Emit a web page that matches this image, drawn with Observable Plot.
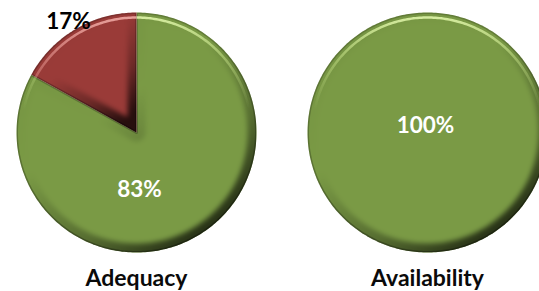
<!DOCTYPE html>
<html><head><meta charset="utf-8">
<script src="https://cdn.jsdelivr.net/npm/d3@7"></script>
<script src="https://cdn.jsdelivr.net/npm/@observablehq/plot@0.6"></script>
<style>html,body{margin:0;padding:0;background:#fff;overflow:hidden} svg{display:block}</style>
</head><body><div id="chart"></div>
<script>
// ---- data ----
const pieNames = ["Adequacy", "Availability"];
const adequacyCategories = ["Adequate", "Inadequate"];
const adequacyValues = [83, 17];
const availabilityCategories = ["Available"];
const availabilityValues = [100];

// ---- styles & layout ----
const W = 539, H = 291;
const sliceColors = {Adequate: "#7a9a45", Inadequate: "#9a3b38", Available: "#7a9a45"};
const ridgeFills = {Adequate: "url(#ridgeGreen)", Inadequate: "url(#ridgeRed)", Available: "url(#ridgeGreen)"};
const labelColors = {Adequate: "#ffffff", Inadequate: "#000000", Available: "#ffffff"};
const layout = {
  centers: [136, 427], cy: 132, r: 120, titleY: 278, ridgeInset: 5,
  labelOffsets: {Adequate: [3, 57.5], Inadequate: [-68, -110.5], Available: [-2, -6.5]}
};

function makeSlices(pieIndex, cats, vals) {
  const total = d3.sum(vals); let acc = 0;
  return cats.map((c, i) => {
    const a0 = acc / total * 2 * Math.PI; acc += vals[i];
    const a1 = acc / total * 2 * Math.PI;
    return {id: pieIndex + "-" + c, pie: pieIndex, cat: c, value: vals[i], pct: vals[i] / total, a0, a1};
  });
}
const slices = [
  ...makeSlices(0, adequacyCategories, adequacyValues),
  ...makeSlices(1, availabilityCategories, availabilityValues)
];

function pt(s, R, a) {
  const cx = layout.centers[s.pie];
  return {x: cx + R * Math.sin(a), y: layout.cy - R * Math.cos(a)};
}
function arcPts(s, R) {
  const n = Math.max(2, Math.ceil((s.a1 - s.a0) / (Math.PI / 180)));
  return d3.range(n + 1).map(k => pt(s, R, s.a0 + (s.a1 - s.a0) * k / n));
}
// slice outlines
const shapePts = slices.flatMap(s => {
  const full = s.a1 - s.a0 >= 2 * Math.PI - 1e-9;
  const arc = arcPts(s, layout.r);
  const c = {x: layout.centers[s.pie], y: layout.cy};
  const pts = full ? arc : [c, ...arc, c];
  return pts.map(p => ({...p, id: s.id, cat: s.cat}));
});
// bevel ridge arcs
const ridgePts = slices.flatMap(s => arcPts(s, layout.r - layout.ridgeInset).map(p => ({...p, id: s.id, cat: s.cat})));

const labels = slices.map(s => ({
  x: layout.centers[s.pie] + layout.labelOffsets[s.cat][0],
  y: layout.cy + layout.labelOffsets[s.cat][1],
  text: Math.round(s.pct * 100) + "%", cat: s.cat
}));
const titles = pieNames.map((n, i) => ({name: n, x: layout.centers[i], y: layout.titleY}));

const plot = Plot.plot({
  width: W, height: H, margin: 0,
  style: {background: "#fff", overflow: "hidden"},
  x: {domain: [0, W], range: [0, W], axis: null},
  y: {domain: [0, H], range: [0, H], axis: null},
  color: {type: "identity"},
  marks: [
    Plot.line(shapePts, {x: "x", y: "y", z: "id", fill: d => sliceColors[d.cat], stroke: "none", curve: "linear"}),
    Plot.line(shapePts, {x: "x", y: "y", z: "id", fill: "none", stroke: "url(#shade)", strokeWidth: 18, curve: "linear"}),
    Plot.line(shapePts, {x: "x", y: "y", z: "id", fill: "none", stroke: "url(#edge)", strokeWidth: 3, curve: "linear"}),
    Plot.line(ridgePts, {x: "x", y: "y", z: "id", fill: "none", stroke: d => ridgeFills[d.cat], strokeWidth: 2.5, curve: "linear"}),
    Plot.text(labels, {x: "x", y: "y", text: "text", fill: d => labelColors[d.cat], fontSize: 22.5, fontWeight: "bold", fontFamily: "Lato"}),
    Plot.text(titles, {x: "x", y: "y", text: "name", fill: "#0a0a0a", fontSize: 23, fontWeight: "bold", fontFamily: "Lato"})
  ]
});

// ---- bevel effects ----
const svg = d3.select(plot);
const defs = svg.insert("defs", ":first-child");
function grad(id, attrs, stops) {
  const g = defs.append("linearGradient").attr("id", id);
  Object.entries(attrs).forEach(([k, v]) => g.attr(k, v));
  stops.forEach(([o, c, op]) => g.append("stop").attr("offset", o).attr("stop-color", c).attr("stop-opacity", op));
}
grad("shade", {x1: 0, y1: 0, x2: 0.75, y2: 1}, [[0, "#000", 0.05], [0.45, "#000", 0.0], [0.75, "#000", 0.3], [1, "#000", 0.75]]);
grad("edge", {x1: 0, y1: 0, x2: 0, y2: 1}, [[0, "#000", 0.18], [1, "#000", 0.3]]);
grad("ridgeGreen", {gradientUnits: "userSpaceOnUse", x1: 0, y1: layout.cy - layout.r, x2: 0, y2: layout.cy + 10},
  [[0, "#e2f7ad", 0.95], [0.35, "#c8e48a", 0.5], [0.75, "#c8e48a", 0]]);
grad("ridgeRed", {gradientUnits: "userSpaceOnUse", x1: 0, y1: layout.cy - layout.r, x2: 0, y2: layout.cy - 40},
  [[0, "#f0aaa5", 0.95], [0.6, "#e3928d", 0.6], [1, "#e3928d", 0.3]]);
const blur = defs.append("filter").attr("id", "blur").attr("filterUnits", "userSpaceOnUse")
  .attr("x", 0).attr("y", 0).attr("width", W).attr("height", H);
blur.append("feGaussianBlur").attr("stdDeviation", 2.5);
const blurS = defs.append("filter").attr("id", "blurS").attr("filterUnits", "userSpaceOnUse")
  .attr("x", 0).attr("y", 0).attr("width", W).attr("height", H);
blurS.append("feGaussianBlur").attr("stdDeviation", 0.7);

const groups = svg.selectAll('g[aria-label="line"]').nodes();
const basePaths = d3.select(groups[0]).selectAll("path").nodes();
basePaths.forEach((p, i) => {
  defs.append("clipPath").attr("id", "clip" + i).append("path").attr("d", p.getAttribute("d"));
});
[1, 2, 3].forEach(gi => {
  d3.select(groups[gi]).selectAll("path").each(function (_, i) {
    d3.select(this).attr("clip-path", `url(#clip${i})`).attr("filter", gi === 1 ? "url(#blur)" : "url(#blurS)");
  });
});

document.getElementById("chart").append(plot);
</script>
</body></html>
